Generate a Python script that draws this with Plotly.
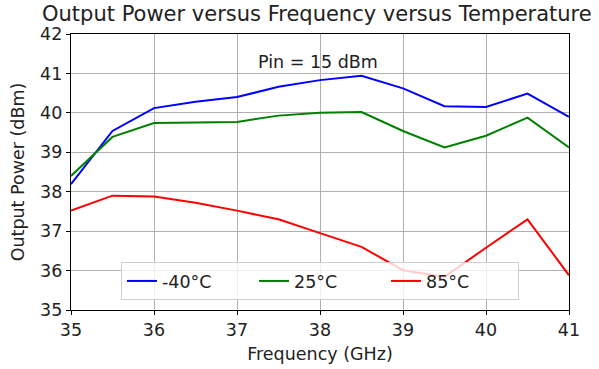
import plotly.graph_objects as go

freq_ghz = [35, 35.5, 36, 36.5, 37, 37.5, 38, 38.5, 39, 39.5, 40, 40.5, 41]
pout_m40 = [38.19, 39.54, 40.12, 40.28, 40.40, 40.66, 40.83, 40.94, 40.62, 40.17, 40.15, 40.49, 39.90]
pout_25 = [38.40, 39.39, 39.74, 39.75, 39.77, 39.93, 40.00, 40.02, 39.54, 39.12, 39.42, 39.88, 39.12]
pout_85 = [37.52, 37.90, 37.88, 37.72, 37.52, 37.30, 36.95, 36.60, 36.01, 35.84, 36.58, 37.30, 35.88]
series_names = ["-40°C", "25°C", "85°C"]
series_colors = ["blue", "green", "red"]

font = "DejaVu Sans"
fs = 17.5
fig = go.Figure()
for name, vals, col in zip(series_names, [pout_m40, pout_25, pout_85], series_colors):
    fig.add_trace(go.Scatter(x=freq_ghz, y=vals, mode="lines", name=name,
                             line=dict(color=col, width=2)))

fig.add_annotation(x=37.97, y=41.3, text="Pin = 15 dBm", showarrow=False,
                   font=dict(family=font, size=fs, color="#222"))

axis_common = dict(showgrid=True, gridcolor="#b0b0b0", gridwidth=1,
                   showline=True, linecolor="black", linewidth=1.2, mirror=True,
                   ticks="outside", ticklen=4, tickcolor="black",
                   tickfont=dict(family=font, size=fs, color="#222"),
                   zeroline=False, automargin=False)

fig.update_layout(
    width=599, height=369,
    margin=dict(l=71, r=30, t=34, b=59),
    paper_bgcolor="white", plot_bgcolor="white",
    title=dict(text="Output Power versus Frequency versus Temperature",
               x=0.529, xanchor="center", y=0.963, yanchor="middle",
               font=dict(family=font, size=21, color="#222")),
    xaxis=dict(range=[35, 41], dtick=1,
               title=dict(text="Frequency (GHz)", font=dict(family=font, size=fs, color="#222"), standoff=8),
               **axis_common),
    yaxis=dict(range=[35, 42], dtick=1,
               title=dict(text="Output Power (dBm)", font=dict(family=font, size=fs, color="#222"), standoff=10),
               **axis_common),
    legend=dict(orientation="h", x=0.5, xanchor="center", y=0.036, yanchor="bottom",
                bgcolor="rgba(255,255,255,0.8)", bordercolor="#d0d0d0", borderwidth=1,
                font=dict(family=font, size=fs, color="#222"),
                entrywidth=87, entrywidthmode="pixels"),
    showlegend=True,
)

fig.write_html("out.html")
